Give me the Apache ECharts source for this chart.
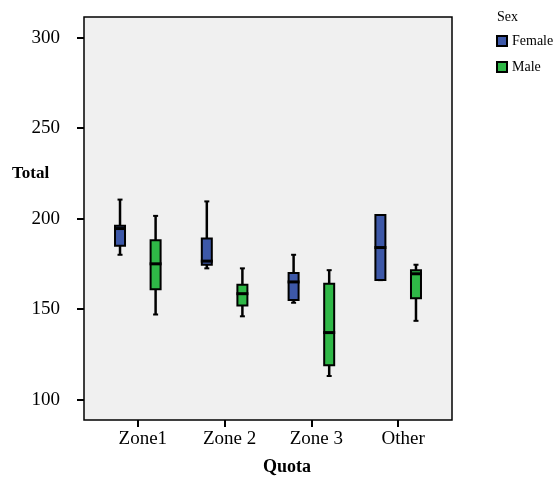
<!DOCTYPE html>
<html>
<head>
<meta charset="utf-8">
<script src="https://cdn.jsdelivr.net/npm/echarts@6/dist/echarts.min.js"></script>
<style>html,body{margin:0;padding:0;background:#fff}#main{width:555px;height:478px}</style>
</head>
<body>
<div id="main"></div>
<script>
const categories = ['Zone1', 'Zone 2', 'Zone 3', 'Other'];
const seriesNames = ['Female', 'Male'];
// [min, Q1, median, Q3, max]
const femaleStats = [
  [180, 185, 194.5, 196, 210.5],
  [172.5, 174.5, 176.5, 189, 209.5],
  [153.5, 155, 165, 170, 180],
  [166, 166, 184, 202, 202]
];
const maleStats = [
  [147, 161, 175, 188, 201.5],
  [146, 152, 158.5, 163.5, 172.5],
  [113, 119, 137, 164, 171.5],
  [143.5, 156, 169.5, 171.5, 174.5]
];
const yTicks = [100, 150, 200, 250, 300];

const FONT = 'Liberation Serif';
const colors = ['#3d58a8', '#2fb847'];
const offsets = [-0.205, 0.205];

function makeRender(offset) {
  return function (params, api) {
    const x = api.value(0) + offset;
    const pMin = api.coord([x, api.value(1)]);
    const pQ1 = api.coord([x, api.value(2)]);
    const pMed = api.coord([x, api.value(3)]);
    const pQ3 = api.coord([x, api.value(4)]);
    const pMax = api.coord([x, api.value(5)]);
    const cx = pMed[0];
    const hw = 5;
    const cap = 2.5;
    const color = api.visual('color');
    const lineStyle = { stroke: '#000', lineWidth: 2.5 };
    return {
      type: 'group',
      children: [
        { type: 'line', shape: { x1: cx, y1: pQ3[1], x2: cx, y2: pMax[1] }, style: lineStyle },
        { type: 'line', shape: { x1: cx, y1: pQ1[1], x2: cx, y2: pMin[1] }, style: lineStyle },
        { type: 'line', shape: { x1: cx - cap, y1: pMax[1], x2: cx + cap, y2: pMax[1] }, style: { stroke: '#000', lineWidth: 2 } },
        { type: 'line', shape: { x1: cx - cap, y1: pMin[1], x2: cx + cap, y2: pMin[1] }, style: { stroke: '#000', lineWidth: 2 } },
        { type: 'rect', shape: { x: cx - hw, y: pQ3[1], width: hw * 2, height: pQ1[1] - pQ3[1] },
          style: { fill: color, stroke: '#000', lineWidth: 2 } },
        { type: 'line', shape: { x1: cx - hw - 1, y1: pMed[1], x2: cx + hw + 1, y2: pMed[1] }, style: { stroke: '#000', lineWidth: 3 } }
      ]
    };
  };
}

function toData(stats) {
  return stats.map((s, i) => [i].concat(s));
}

const chart = echarts.init(document.getElementById('main'));
chart.setOption({
  animation: false,
  backgroundColor: '#fff',
  title: [
    { text: 'Total', left: 12, top: 165, padding: 0, textStyle: { fontFamily: FONT, fontSize: 17, fontWeight: 'bold', color: '#000' } },
    { text: 'Quota', left: 263, top: 458, padding: 0, textStyle: { fontFamily: FONT, fontSize: 18, fontWeight: 'bold', color: '#000' } },
    { text: 'Sex', left: 497, top: 10, padding: 0, textStyle: { fontFamily: FONT, fontSize: 14, fontWeight: 'normal', color: '#000' } }
  ],
  legend: {
    data: seriesNames,
    orient: 'vertical',
    left: 496,
    top: 34,
    padding: 0,
    itemGap: 12,
    itemWidth: 10,
    itemHeight: 10,
    icon: 'rect',
    itemStyle: { borderColor: '#000', borderWidth: 2 },
    textStyle: { fontFamily: FONT, fontSize: 14, color: '#000' }
  },
  grid: {
    left: 84, right: 103, top: 17, bottom: 58,
    show: true, backgroundColor: '#f0f0f0', borderColor: '#000', borderWidth: 1.5
  },
  xAxis: {
    type: 'value',
    min: -0.62,
    max: 3.62,
    axisLine: { show: false, onZero: false },
    splitLine: { show: false },
    axisTick: { show: true, customValues: [0, 1, 2, 3], length: 7, lineStyle: { color: '#000', width: 2 } },
    axisLabel: {
      customValues: [0, 1, 2, 3],
      formatter: v => categories[Math.round(v)],
      fontFamily: FONT, fontSize: 19, color: '#000', margin: 10, padding: [0, 0, 0, 10]
    }
  },
  yAxis: {
    type: 'value',
    min: 88.7,
    max: 311.4,
    axisLine: { show: false, onZero: false },
    splitLine: { show: false },
    axisTick: { show: true, customValues: yTicks, length: 7, lineStyle: { color: '#000', width: 2 } },
    axisLabel: { customValues: yTicks, fontFamily: FONT, fontSize: 19, color: '#000', margin: 24 }
  },
  series: [
    { name: seriesNames[0], type: 'custom', renderItem: makeRender(offsets[0]), itemStyle: { color: colors[0] },
      encode: { x: 0, y: [1, 2, 3, 4, 5] }, data: toData(femaleStats) },
    { name: seriesNames[1], type: 'custom', renderItem: makeRender(offsets[1]), itemStyle: { color: colors[1] },
      encode: { x: 0, y: [1, 2, 3, 4, 5] }, data: toData(maleStats) }
  ]
});
</script>
</body>
</html>
